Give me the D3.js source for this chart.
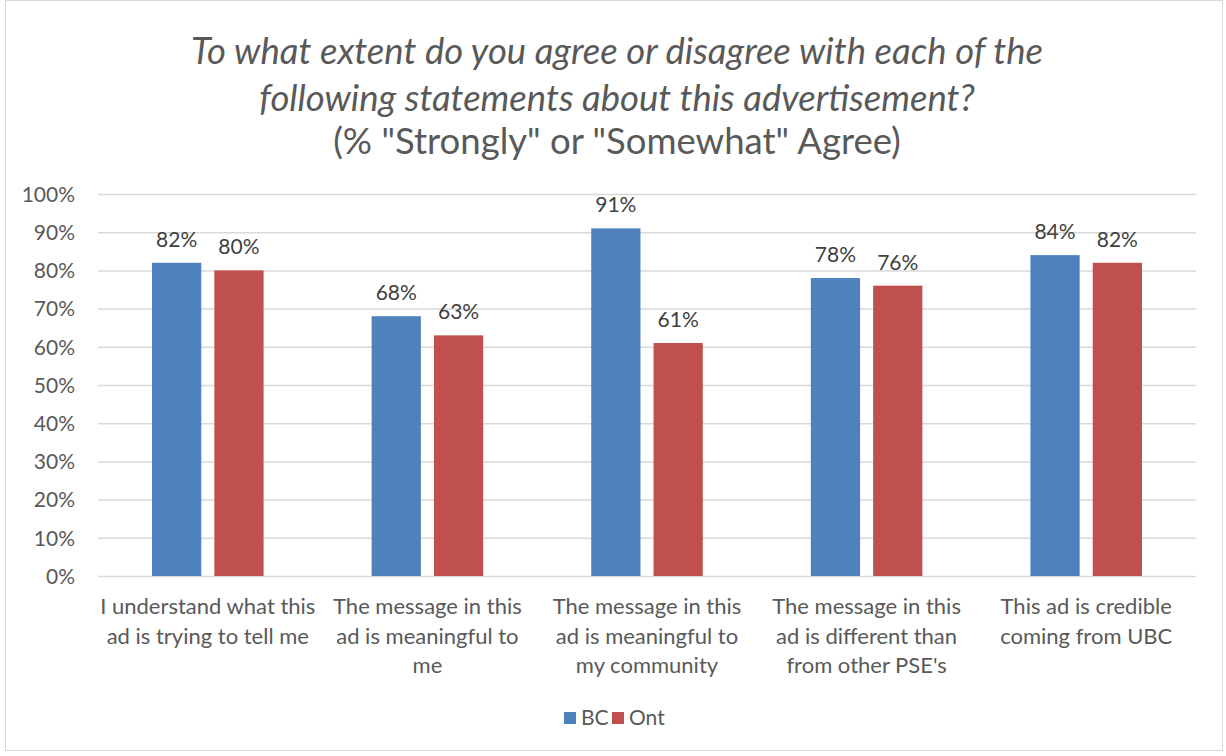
<!DOCTYPE html>
<html><head><meta charset="utf-8">
<script src="https://cdn.jsdelivr.net/npm/d3@7"></script>
<style>body{margin:0;background:#fff;} text{font-family:Lato,"Open Sans",sans-serif;}</style>
</head><body>
<svg id="c" width="1226" height="756"></svg>
<script>
const categories = [
  ["I understand what this","ad is trying to tell me"],
  ["The message in this","ad is meaningful to","me"],
  ["The message in this","ad is meaningful to","my community"],
  ["The message in this","ad is different than","from other PSE's"],
  ["This ad is credible","coming from UBC"]
];
const seriesNames = ["BC","Ont"];
const bcValues = [82,68,91,78,84];
const ontValues = [80,63,61,76,82];
const yTicks = [0,10,20,30,40,50,60,70,80,90,100];
const colors = ["#4F81BD","#C0504D"];
const titleLines = [
  {t:"To what extent do you agree or disagree with each of the", italic:true},
  {t:"following statements about this advertisement?", italic:true},
  {t:"(% \"Strongly\" or \"Somewhat\" Agree)", italic:false}
];

const svg = d3.select("#c");
svg.append("rect").attr("x",5.5).attr("y",0.5).attr("width",1217).attr("height",750)
  .attr("fill","#fff").attr("stroke","#d9d9d9").attr("stroke-width",1);

const pLeft=98, pRight=1196, pTop=194, pBottom=576;
const x0 = d3.scaleBand().domain(d3.range(categories.length)).range([pLeft,pRight]).paddingInner(0).paddingOuter(0);
const bw = x0.bandwidth();
const x1 = d3.scaleBand().domain(seriesNames).range([bw*0.246,bw*0.754]).paddingInner(0.21).paddingOuter(0);
const y = d3.scaleLinear().domain([0,100]).range([pBottom,pTop]);

// title
titleLines.forEach((l,i)=>{
  svg.append("text").attr("x",617).attr("y",[63.5,110.5,153.5][i]).attr("text-anchor","middle")
    .attr("font-size",36.5).attr("fill","#595959").attr("font-style",l.italic?"italic":"normal").text(l.t);
});

// gridlines
const yAxis = d3.axisLeft(y).tickValues(yTicks).tickFormat(d=>d+"%").tickSize(-(pRight-pLeft)).tickPadding(22);
const ga = svg.append("g").attr("transform",`translate(${pLeft},0)`).call(yAxis);
ga.select(".domain").remove();
ga.selectAll(".tick line").attr("stroke","#d9d9d9").attr("stroke-width",1.5);
ga.selectAll(".tick text").attr("font-size",21).attr("fill","#595959").attr("font-family","Lato,'Open Sans',sans-serif").attr("x",-23).attr("dy","0.35em");

const data = categories.map((c,i)=>({i, vals:[{s:"BC",v:bcValues[i]},{s:"Ont",v:ontValues[i]}]}));
const g = svg.selectAll(".cat").data(data).join("g").attr("class","cat").attr("transform",d=>`translate(${x0(d.i)},0)`);
g.selectAll("rect").data(d=>d.vals).join("rect")
  .attr("x",d=>x1(d.s)).attr("width",x1.bandwidth())
  .attr("y",d=>y(d.v)).attr("height",d=>y(0)-y(d.v))
  .attr("fill",(d,j)=>colors[j]);
g.selectAll("text.lab").data(d=>d.vals).join("text").attr("class","lab")
  .attr("x",d=>x1(d.s)+x1.bandwidth()/2).attr("y",d=>y(d.v)-16)
  .attr("text-anchor","middle").attr("font-size",21).attr("fill","#404040")
  .text(d=>d.v+"%");

// category labels
const xa = svg.append("g").attr("transform",`translate(0,${pBottom})`);
categories.forEach((lines,i)=>{
  const t = xa.append("text").attr("x",x0(i)+x0.bandwidth()/2).attr("y",38).attr("text-anchor","middle")
    .attr("font-size",22).attr("fill","#595959");
  lines.forEach((ln,k)=>t.append("tspan").attr("x",x0(i)+x0.bandwidth()/2).attr("y",38+k*29.5).text(ln));
});

// legend
const leg = svg.append("g");
const legItems = [{n:"BC",x:564},{n:"Ont",x:612}];
legItems.forEach((it,j)=>{
  leg.append("rect").attr("x",it.x).attr("y",712).attr("width",12).attr("height",12).attr("fill",colors[j]);
  leg.append("text").attr("x",it.x+17).attr("y",725).attr("font-size",21).attr("fill","#595959").text(it.n);
});
</script>
</body></html>
